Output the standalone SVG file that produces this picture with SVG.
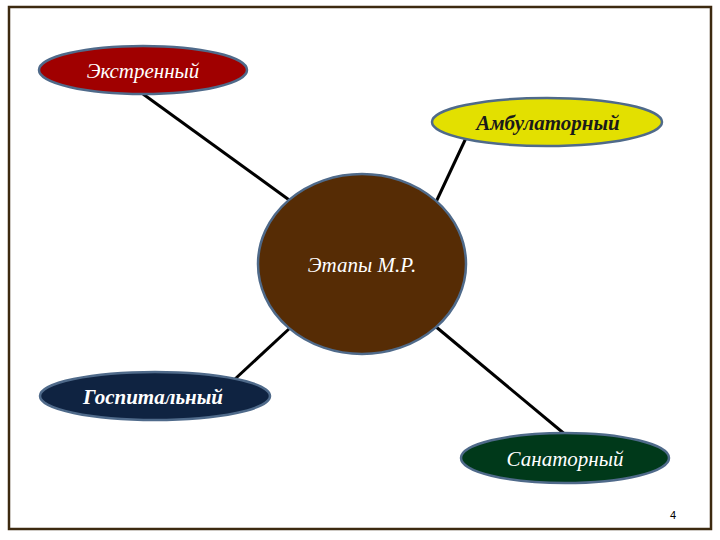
<svg xmlns="http://www.w3.org/2000/svg" width="720" height="540" viewBox="0 0 720 540">
<style>
.node{stroke:#4F6A8A;stroke-width:2.5}
.lbl{font-family:"Liberation Serif","DejaVu Serif",serif;font-style:italic;font-size:21px;text-anchor:middle}
.b{font-weight:bold}
.conn line{stroke:#000;stroke-width:3}
</style>
<rect x="0" y="0" width="720" height="540" fill="#fff"/>
<rect x="9" y="7" width="702" height="522" fill="none" stroke="#3D2A10" stroke-width="2.5"/>
<g class="conn">
<line x1="143" y1="94" x2="292" y2="202"/>
<line x1="466" y1="138" x2="436" y2="202"/>
<line x1="290" y1="328" x2="235" y2="379"/>
<line x1="435" y1="326" x2="567" y2="436"/>
</g>
<g id="center"><ellipse class="node" cx="362" cy="264" rx="104" ry="90" fill="#562C05"/><text class="lbl" x="362" y="272" fill="#fff" font-size="20.5px">Этапы М.Р.</text></g>
<g id="ekstr"><ellipse class="node" cx="143" cy="70" rx="104" ry="24" fill="#A00000"/><text class="lbl" x="143" y="78" fill="#fff">Экстренный</text></g>
<g id="ambul"><ellipse class="node" cx="547" cy="122" rx="115" ry="24" fill="#E3E000"/><text class="lbl b" x="548" y="130" fill="#1a1a1a">Амбулаторный</text></g>
<g id="gosp"><ellipse class="node" cx="155" cy="396" rx="115" ry="24" fill="#0F2341"/><text class="lbl b" x="153" y="404" fill="#fff">Госпитальный</text></g>
<g id="sanat"><ellipse class="node" cx="565" cy="458" rx="104" ry="25" fill="#00391A"/><text class="lbl" x="565" y="466" fill="#fff">Санаторный</text></g>
<text x="673" y="519" font-family="Liberation Sans,Arial,sans-serif" font-size="11" text-anchor="middle" fill="#000">4</text>
</svg>
